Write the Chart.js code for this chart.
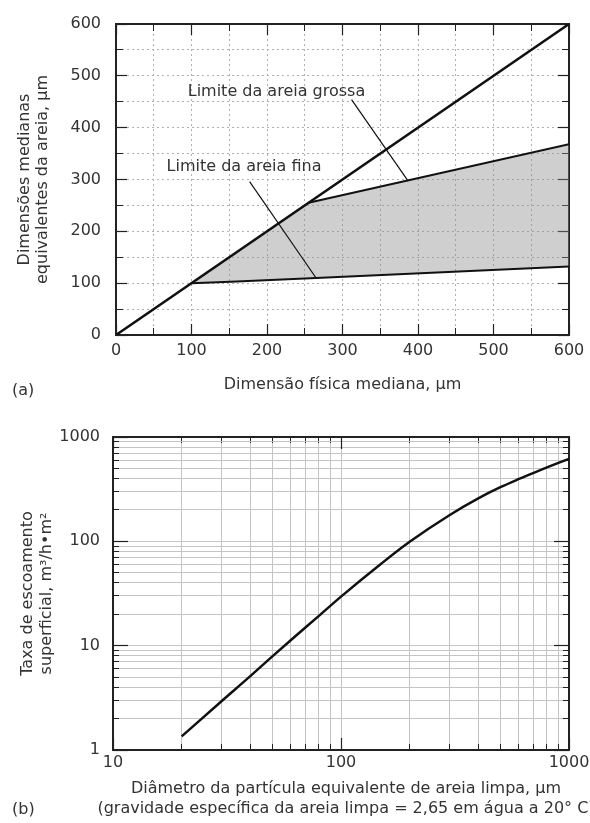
<!DOCTYPE html>
<html>
<head>
<meta charset="utf-8">
<script src="https://cdn.jsdelivr.net/npm/chart.js@4.4.1/dist/chart.umd.min.js"></script>
<style>
body { margin: 0; background: #fff; width: 590px; height: 823px; overflow: hidden; position: relative; font-family: "DejaVu Sans", sans-serif; }
canvas { position: absolute; left: 0; }
#chartA { top: 0; }
#chartB { top: 400px; }
.tag { position: absolute; left: 12px; font-size: 16px; line-height: 18px; color: #333; }
</style>
</head>
<body>
<canvas id="chartA" width="590" height="400"></canvas>
<canvas id="chartB" width="590" height="423"></canvas>
<div class="tag" style="top:381px">(a)</div>
<div class="tag" style="top:800px">(b)</div>
<script>
// (a) sand size limits
const diagX = [0, 600];
const diagY = [0, 600];
const coarseX = [255, 600];
const coarseY = [255, 368];
const fineX = [100, 160, 265, 600];
const fineY = [100, 103, 110, 132];
const leadCoarseX = [312, 387];
const leadCoarseY = [454, 297];
const leadFineX = [177, 265];
const leadFineY = [296, 110];
const noteText = ["Limite da areia grossa", "Limite da areia fina"];
const noteX = [95, 67];
const noteY = [469, 324];

// (b) overflow rate vs particle diameter
const diameter = [20, 30, 40, 50, 60, 80, 100, 150, 200, 300, 400, 500, 600, 700, 800, 1000];
const rate = [1.35, 2.95, 5.1, 7.9, 11.2, 19.3, 29.5, 61, 99, 179, 258, 330, 394, 454, 511, 618];
const xTitleB = ["Diâmetro da partícula equivalente de areia limpa, μm",
                 "(gravidade específica da areia limpa = 2,65 em água a 20° C)"];

Chart.defaults.font.family = '"DejaVu Sans", sans-serif';
Chart.defaults.font.size = 16;
Chart.defaults.color = "#333";

const INK = "#222";
const FONT = '16px "DejaVu Sans", sans-serif';

const pts = (xs, ys) => xs.map((v, i) => ({x: v, y: ys[i]}));
const line = (xs, ys, w, order) => ({
  data: pts(xs, ys), showLine: true, borderColor: "#111", borderWidth: w,
  pointRadius: 0, fill: false, order: order
});

// fixed box size, and no extra room for overhanging tick labels
const fixBox = size => s => {
  if (s.isHorizontal()) s.height = size; else s.width = size;
  s.paddingTop = s.paddingBottom = s.paddingLeft = s.paddingRight = 0;
};

// longer inward ticks at the labelled values, on a zero-size axis
const majorAxis = (type, position, min, max, keep, len) => ({
  type: type, position: position, min: min, max: max, weight: 0,
  afterBuildTicks: s => { s.ticks = s.ticks.filter(t => keep(t.value)); },
  ticks: type === "linear" ? {display: false, autoSkip: false, stepSize: 50} : {display: false, autoSkip: false},
  grid: {drawOnChartArea: false, tickColor: INK, tickLength: -len, tickWidth: 1.2},
  border: {display: false},
  afterFit: fixBox(0)
});

const notes = {
  id: "notes",
  afterDatasetsDraw(chart) {
    const {ctx, scales} = chart;
    ctx.save();
    ctx.font = FONT;
    ctx.fillStyle = "#333";
    ctx.textBaseline = "middle";
    noteText.forEach((t, i) => {
      ctx.fillText(t, scales.x.getPixelForValue(noteX[i]), scales.y.getPixelForValue(noteY[i]));
    });
    ctx.restore();
  }
};

const band = [pts(fineX, fineY)[0]].concat(pts(coarseX, coarseY), pts(fineX, fineY).reverse());
const hundred = v => v % 100 === 0;

new Chart("chartA", {
  type: "scatter",
  data: {
    datasets: [
      {data: band, showLine: true, borderWidth: 0, pointRadius: 0,
       backgroundColor: "rgba(140,140,140,0.42)", fill: "shape", order: 10},
      line(diagX, diagY, 2.5, 1),
      line(coarseX, coarseY, 2, 2),
      line(fineX, fineY, 2, 2),
      line(leadCoarseX, leadCoarseY, 1.2, 3),
      line(leadFineX, leadFineY, 1.2, 3)
    ]
  },
  options: {
    responsive: false,
    animation: false,
    events: [],
    layout: {padding: 0},
    plugins: {legend: {display: false}, tooltip: {enabled: false}},
    scales: {
      x: {
        type: "linear", position: "bottom", min: 0, max: 600, weight: 1,
        ticks: {stepSize: 50, autoSkip: false, maxRotation: 0, padding: 13,
                callback: v => (hundred(v) ? v : "")},
        grid: {color: "#b0b0b0", lineWidth: 1, tickColor: INK, tickLength: -7},
        border: {color: INK, width: 2, dash: [2, 3]},
        title: {display: true, text: "Dimensão física mediana, μm",
                font: {size: 16, lineHeight: 1.125}, padding: {top: 0, bottom: 6}},
        afterFit: fixBox(65)
      },
      x2: {
        type: "linear", position: "top", min: 0, max: 600, weight: 1,
        ticks: {display: false, stepSize: 50, autoSkip: false},
        grid: {drawOnChartArea: false, tickColor: INK, tickLength: -7},
        border: {color: INK, width: 2},
        afterFit: fixBox(24)
      },
      y: {
        type: "linear", position: "left", min: 0, max: 600, weight: 1,
        ticks: {stepSize: 50, autoSkip: false, padding: 22,
                callback: v => (hundred(v) ? v : "")},
        grid: {color: "#b0b0b0", lineWidth: 1, tickColor: INK, tickLength: -7},
        border: {color: INK, width: 2, dash: [2, 3]},
        title: {display: true, text: ["Dimensões medianas", "equivalentes da areia, μm"],
                font: {size: 16, lineHeight: 1.125}, padding: {top: 16, bottom: 0}},
        afterFit: fixBox(116)
      },
      y2: {
        type: "linear", position: "right", min: 0, max: 600, weight: 1,
        ticks: {display: false, stepSize: 50, autoSkip: false},
        grid: {drawOnChartArea: false, tickColor: INK, tickLength: -7},
        border: {color: INK, width: 2},
        afterFit: fixBox(21)
      },
      xm: majorAxis("linear", "bottom", 0, 600, hundred, 11),
      xm2: majorAxis("linear", "top", 0, 600, hundred, 11),
      ym: majorAxis("linear", "left", 0, 600, hundred, 11),
      ym2: majorAxis("linear", "right", 0, 600, hundred, 11)
    }
  },
  plugins: [notes]
});

const isDecade = v => {
  const l = Math.log10(v);
  return Math.abs(l - Math.round(l)) < 1e-9;
};
const keepWhole = s => {
  s.ticks = s.ticks.filter(t => {
    const m = t.value / Math.pow(10, Math.floor(Math.log10(t.value) + 1e-9));
    return Math.abs(m - Math.round(m)) < 1e-6;
  });
};

const titleB = {
  id: "titleB",
  afterDraw(chart) {
    const {ctx, chartArea} = chart;
    const cx = (chartArea.left + chartArea.right) / 2 + 5;
    ctx.save();
    ctx.font = FONT;
    ctx.fillStyle = "#333";
    ctx.textAlign = "center";
    ctx.textBaseline = "middle";
    xTitleB.forEach((t, i) => ctx.fillText(t, cx, chartArea.bottom + 39 + i * 20));
    ctx.restore();
  }
};

new Chart("chartB", {
  type: "scatter",
  data: {
    datasets: [{
      data: pts(diameter, rate), showLine: true, borderColor: "#111", borderWidth: 2.5,
      pointRadius: 0, cubicInterpolationMode: "monotone", fill: false
    }]
  },
  options: {
    responsive: false,
    animation: false,
    events: [],
    layout: {padding: 0},
    plugins: {legend: {display: false}, tooltip: {enabled: false}},
    scales: {
      x: {
        type: "logarithmic", position: "bottom", min: 10, max: 1000, weight: 1,
        afterBuildTicks: keepWhole,
        ticks: {autoSkip: false, maxRotation: 0, padding: 9,
                callback: v => (isDecade(v) ? v : "")},
        grid: {color: "#c4c4c4", lineWidth: 1, tickColor: INK, tickLength: -6},
        border: {color: INK, width: 2},
        afterFit: fixBox(73)
      },
      x2: {
        type: "logarithmic", position: "top", min: 10, max: 1000, weight: 1,
        afterBuildTicks: keepWhole,
        ticks: {display: false, autoSkip: false},
        grid: {drawOnChartArea: false, tickColor: INK, tickLength: -6},
        border: {color: INK, width: 2},
        afterFit: fixBox(37)
      },
      y: {
        type: "logarithmic", position: "left", min: 1, max: 1000, weight: 1,
        afterBuildTicks: keepWhole,
        ticks: {autoSkip: false, padding: 19,
                callback: v => (isDecade(v) ? v : "")},
        grid: {color: "#c4c4c4", lineWidth: 1, tickColor: INK, tickLength: -6},
        border: {color: INK, width: 2},
        title: {display: true, text: ["Taxa de escoamento", "superficial, m³/h•m²"],
                font: {size: 16, lineHeight: 1.19}, padding: {top: 18, bottom: 0}},
        afterFit: fixBox(113)
      },
      y2: {
        type: "logarithmic", position: "right", min: 1, max: 1000, weight: 1,
        afterBuildTicks: keepWhole,
        ticks: {display: false, autoSkip: false},
        grid: {drawOnChartArea: false, tickColor: INK, tickLength: -6},
        border: {color: INK, width: 2},
        afterFit: fixBox(21)
      },
      xm: majorAxis("logarithmic", "bottom", 10, 1000, isDecade, 12),
      xm2: majorAxis("logarithmic", "top", 10, 1000, isDecade, 12),
      ym: majorAxis("logarithmic", "left", 1, 1000, isDecade, 15),
      ym2: majorAxis("logarithmic", "right", 1, 1000, isDecade, 15)
    }
  },
  plugins: [titleB]
});
</script>
</body>
</html>
